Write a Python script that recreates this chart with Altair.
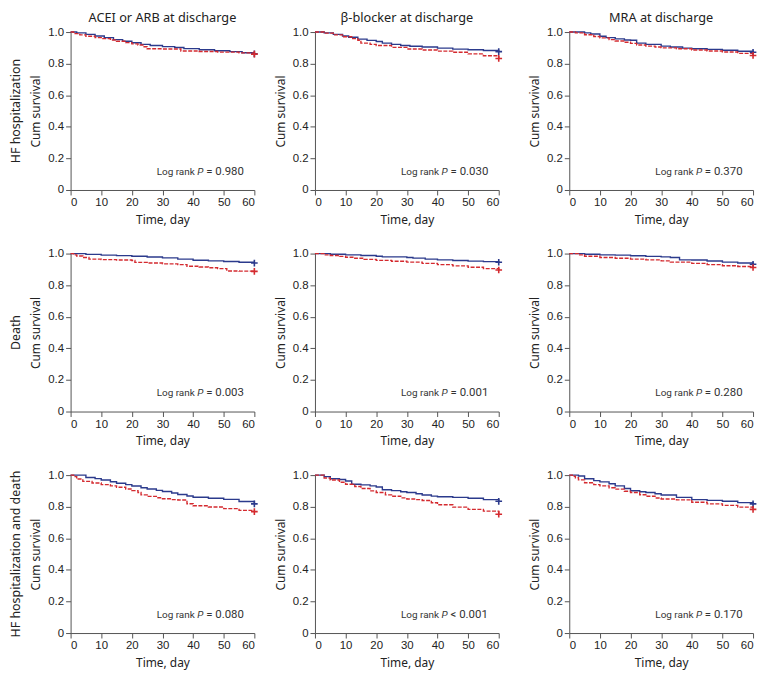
import altair as alt
import pandas as pd

BLUE = "#2b3a8c"
RED = "#d42a2f"

outcomes = ["HF hospitalization", "Death", "HF hospitalization and death"]
drugs = ["ACEI or ARB at discharge", "β-blocker at discharge", "MRA at discharge"]
p_ops = [["=", "=", "="], ["=", "=", "="], ["=", "<", "="]]
p_vals = [["0.980", "0.030", "0.370"], ["0.003", "0.001", "0.280"], ["0.080", "0.001", "0.170"]]

x_ticks = [0, 10, 20, 30, 40, 50, 60]
y_ticks = [0, 0.2, 0.4, 0.6, 0.8, 1.0]

# ---- HF hospitalization ----
hf_acei_blue_t = [0, 2, 5, 8, 11, 14, 17, 20, 23, 26, 30, 34, 37, 42, 47, 52, 56, 60]
hf_acei_blue_s = [1.0, 0.995, 0.985, 0.975, 0.965, 0.952, 0.942, 0.932, 0.922, 0.915, 0.908, 0.902, 0.895, 0.888, 0.882, 0.876, 0.869, 0.862]
hf_acei_red_t = [0, 1, 3, 5, 8, 10, 13, 15, 18, 20, 22, 24, 25, 30, 36, 42, 48, 55, 60]
hf_acei_red_s = [1.0, 0.99, 0.982, 0.973, 0.965, 0.958, 0.95, 0.942, 0.933, 0.925, 0.918, 0.907, 0.894, 0.893, 0.88, 0.877, 0.873, 0.868, 0.86]

hf_bb_blue_t = [0, 3, 6, 9, 11, 14, 17, 20, 22, 25, 28, 31, 35, 40, 45, 50, 55, 60]
hf_bb_blue_s = [1.0, 0.995, 0.985, 0.975, 0.967, 0.955, 0.947, 0.94, 0.93, 0.922, 0.915, 0.91, 0.905, 0.898, 0.892, 0.888, 0.883, 0.876]
hf_bb_red_t = [0, 3, 6, 9, 12, 14, 15, 18, 20, 25, 30, 35, 40, 45, 50, 55, 60]
hf_bb_red_s = [1.0, 0.993, 0.982, 0.97, 0.958, 0.948, 0.93, 0.922, 0.915, 0.903, 0.893, 0.886, 0.879, 0.872, 0.862, 0.85, 0.833]

hf_mra_blue_t = [0, 2, 5, 7, 10, 12, 15, 18, 20, 22, 25, 30, 33, 37, 40, 45, 50, 55, 60]
hf_mra_blue_s = [1.0, 1.0, 0.995, 0.988, 0.973, 0.965, 0.957, 0.95, 0.948, 0.93, 0.922, 0.911, 0.905, 0.898, 0.894, 0.89, 0.885, 0.878, 0.872]
hf_mra_red_t = [0, 2, 5, 8, 10, 13, 15, 18, 20, 22, 25, 28, 30, 35, 40, 45, 50, 55, 60]
hf_mra_red_s = [1.0, 0.995, 0.983, 0.972, 0.963, 0.952, 0.943, 0.935, 0.928, 0.918, 0.911, 0.905, 0.9, 0.894, 0.886, 0.88, 0.874, 0.865, 0.852]

# ---- Death ----
d_acei_blue_t = [0, 5, 10, 15, 20, 25, 30, 35, 40, 45, 50, 55, 60]
d_acei_blue_s = [1.0, 0.995, 0.99, 0.987, 0.983, 0.978, 0.973, 0.965, 0.958, 0.954, 0.95, 0.945, 0.94]
d_acei_red_t = [0, 1, 2, 4, 6, 10, 15, 20, 21, 25, 30, 35, 38, 42, 45, 48, 51, 55, 60]
d_acei_red_s = [1.0, 0.992, 0.985, 0.975, 0.965, 0.962, 0.959, 0.956, 0.944, 0.94, 0.935, 0.93, 0.92, 0.915, 0.91, 0.905, 0.89, 0.889, 0.887]

d_bb_blue_t = [0, 5, 10, 15, 20, 22, 30, 32, 36, 40, 45, 50, 55, 60]
d_bb_blue_s = [1.0, 0.996, 0.992, 0.988, 0.983, 0.979, 0.975, 0.971, 0.965, 0.96, 0.956, 0.952, 0.949, 0.945]
d_bb_red_t = [0, 3, 5, 8, 10, 13, 16, 20, 25, 30, 35, 40, 45, 50, 55, 60]
d_bb_red_s = [1.0, 0.992, 0.988, 0.982, 0.977, 0.97, 0.963, 0.957, 0.951, 0.946, 0.938, 0.93, 0.922, 0.913, 0.905, 0.896]

d_mra_blue_t = [0, 5, 10, 15, 20, 25, 30, 33, 36, 40, 45, 50, 55, 60]
d_mra_blue_s = [1.0, 0.996, 0.992, 0.99, 0.986, 0.982, 0.979, 0.975, 0.96, 0.959, 0.953, 0.946, 0.94, 0.932]
d_mra_red_t = [0, 3, 5, 10, 15, 20, 25, 30, 33, 40, 45, 50, 55, 60]
d_mra_red_s = [1.0, 0.992, 0.983, 0.975, 0.97, 0.965, 0.96, 0.954, 0.946, 0.938, 0.93, 0.923, 0.918, 0.912]

# ---- HF hospitalization and death ----
c_acei_blue_t = [0, 3, 5, 8, 10, 13, 15, 18, 20, 23, 25, 28, 30, 33, 35, 38, 40, 45, 50, 55, 60]
c_acei_blue_s = [1.0, 1.0, 0.985, 0.978, 0.969, 0.958, 0.948, 0.94, 0.931, 0.92, 0.912, 0.903, 0.896, 0.887, 0.877, 0.868, 0.86, 0.853, 0.846, 0.833, 0.818]
c_acei_red_t = [0, 1, 2, 4, 7, 10, 13, 15, 18, 20, 22, 23, 25, 28, 30, 33, 35, 38, 40, 45, 50, 55, 60]
c_acei_red_s = [1.0, 0.99, 0.975, 0.96, 0.95, 0.94, 0.932, 0.923, 0.912, 0.902, 0.89, 0.875, 0.865, 0.857, 0.85, 0.845, 0.842, 0.819, 0.806, 0.798, 0.788, 0.777, 0.769]

c_bb_blue_t = [0, 3, 5, 8, 10, 12, 15, 18, 20, 22, 25, 28, 30, 33, 35, 38, 40, 45, 50, 55, 60]
c_bb_blue_s = [1.0, 0.99, 0.977, 0.972, 0.963, 0.942, 0.938, 0.932, 0.925, 0.907, 0.902, 0.895, 0.89, 0.882, 0.874, 0.867, 0.863, 0.859, 0.853, 0.845, 0.834]
c_bb_red_t = [0, 3, 5, 8, 10, 13, 15, 18, 20, 23, 25, 28, 30, 33, 35, 38, 40, 45, 50, 55, 60]
c_bb_red_s = [1.0, 0.982, 0.969, 0.955, 0.942, 0.928, 0.915, 0.9, 0.89, 0.875, 0.866, 0.856, 0.849, 0.845, 0.839, 0.825, 0.812, 0.797, 0.783, 0.772, 0.752]

c_mra_blue_t = [0, 3, 5, 8, 10, 13, 15, 18, 20, 23, 25, 28, 30, 35, 40, 45, 50, 55, 60]
c_mra_blue_s = [1.0, 0.994, 0.977, 0.965, 0.957, 0.945, 0.932, 0.915, 0.901, 0.895, 0.89, 0.882, 0.874, 0.859, 0.845, 0.84, 0.834, 0.826, 0.818]
c_mra_red_t = [0, 1, 2, 3, 5, 8, 10, 13, 15, 18, 20, 23, 25, 28, 30, 35, 40, 45, 50, 55, 60]
c_mra_red_s = [1.0, 0.993, 0.983, 0.97, 0.952, 0.94, 0.932, 0.92, 0.911, 0.898, 0.89, 0.876, 0.866, 0.855, 0.849, 0.843, 0.828, 0.818, 0.808, 0.797, 0.783]

curves = [
    [(hf_acei_blue_t, hf_acei_blue_s, hf_acei_red_t, hf_acei_red_s),
     (hf_bb_blue_t, hf_bb_blue_s, hf_bb_red_t, hf_bb_red_s),
     (hf_mra_blue_t, hf_mra_blue_s, hf_mra_red_t, hf_mra_red_s)],
    [(d_acei_blue_t, d_acei_blue_s, d_acei_red_t, d_acei_red_s),
     (d_bb_blue_t, d_bb_blue_s, d_bb_red_t, d_bb_red_s),
     (d_mra_blue_t, d_mra_blue_s, d_mra_red_t, d_mra_red_s)],
    [(c_acei_blue_t, c_acei_blue_s, c_acei_red_t, c_acei_red_s),
     (c_bb_blue_t, c_bb_blue_s, c_bb_red_t, c_bb_red_s),
     (c_mra_blue_t, c_mra_blue_s, c_mra_red_t, c_mra_red_s)],
]

W, H = 185, 159
TITLE_FONT = "Noto Sans"
LABEL_FONT = "Liberation Sans"
PLUS = "M-1,0L1,0M0,-1L0,1"


def panel(r, c):
    bt, bs, rt, rs = curves[r][c]
    blue_df = pd.DataFrame({"t": bt, "s": bs})
    red_df = pd.DataFrame({"t": rt, "s": rs})
    xenc = alt.X("t:Q", scale=alt.Scale(domain=[0, 60], nice=False),
                 axis=alt.Axis(values=x_ticks, title="Time, day", format="d"))
    yenc = alt.Y("s:Q", scale=alt.Scale(domain=[0, 1], nice=False),
                 axis=alt.Axis(values=y_ticks, title="Cum survival",
                               labelExpr="datum.value == 0 ? '0' : format(datum.value, '.1f')"))
    blue_line = alt.Chart(blue_df).mark_line(
        interpolate="step-after", color=BLUE, strokeWidth=1.4
    ).encode(x=xenc, y=yenc)
    red_line = alt.Chart(red_df).mark_line(
        interpolate="step-after", color=RED, strokeWidth=1.4, strokeDash=[4, 1.5]
    ).encode(x=xenc, y=yenc)
    blue_end = alt.Chart(blue_df.tail(1)).mark_point(
        shape=PLUS, size=45, filled=False, strokeWidth=1.6, color=BLUE, opacity=1
    ).encode(x=xenc, y=yenc)
    red_end = alt.Chart(red_df.tail(1)).mark_point(
        shape=PLUS, size=45, filled=False, strokeWidth=1.6, color=RED, opacity=1
    ).encode(x=xenc, y=yenc)
    ty = H * 0.885
    t1 = alt.Chart(pd.DataFrame({"v": ["Log rank"]})).mark_text(
        align="right", baseline="middle", fontSize=10, font="Roboto", color="#333"
    ).encode(x=alt.value(125), y=alt.value(ty), text="v:N")
    t2 = alt.Chart(pd.DataFrame({"v": ["P"]})).mark_text(
        align="left", baseline="middle", fontSize=10, font="Roboto", fontStyle="italic", color="#333"
    ).encode(x=alt.value(127.5), y=alt.value(ty), text="v:N")
    t3 = alt.Chart(pd.DataFrame({"v": [p_ops[r][c] + " " + p_vals[r][c]]})).mark_text(
        align="left", baseline="middle", fontSize=11.5, font="Roboto", color="#333"
    ).encode(x=alt.value(136.5), y=alt.value(ty), text="v:N")
    ch = alt.layer(blue_line, red_line, blue_end, red_end, t1, t2, t3).properties(width=W, height=H)
    if r == 0:
        ch = ch.properties(title=alt.TitleParams(drugs[c], anchor="middle", frame="group", offset=1))
    return ch


def row_label(r):
    return alt.Chart(pd.DataFrame({"v": [outcomes[r]]})).mark_text(
        angle=270, align="center", baseline="middle", fontSize=12.5,
        font=TITLE_FONT, color="#222"
    ).encode(x=alt.value(8), y=alt.value(H / 2), text="v:N").properties(width=16, height=H)


rows = []
for r in range(3):
    first = alt.hconcat(row_label(r), panel(r, 0), spacing=6)
    inner = alt.hconcat(first, panel(r, 1), spacing=13)
    row = alt.hconcat(inner, panel(r, 2), spacing=23)
    rows.append(row)

chart = alt.vconcat(*rows, spacing=22).properties(
    padding={"left": 0, "top": 2, "right": 0, "bottom": 0}
).configure_view(stroke=None).configure_axis(
    grid=False,
    domainColor="#555",
    tickColor="#555",
    tickSize=5,
    labelFont=LABEL_FONT,
    labelFontSize=11.5,
    labelColor="#222",
    labelPadding=2,
    titleFont=TITLE_FONT,
    titleFontSize=12,
    titleFontWeight="normal",
    titleColor="#222",
).configure_axisY(titlePadding=5).configure_axisX(titlePadding=6).configure_title(
    font=TITLE_FONT, fontSize=12.8, fontWeight="normal", color="#222"
)

chart.save("out.html", embed_options={"renderer": "svg", "actions": False})
